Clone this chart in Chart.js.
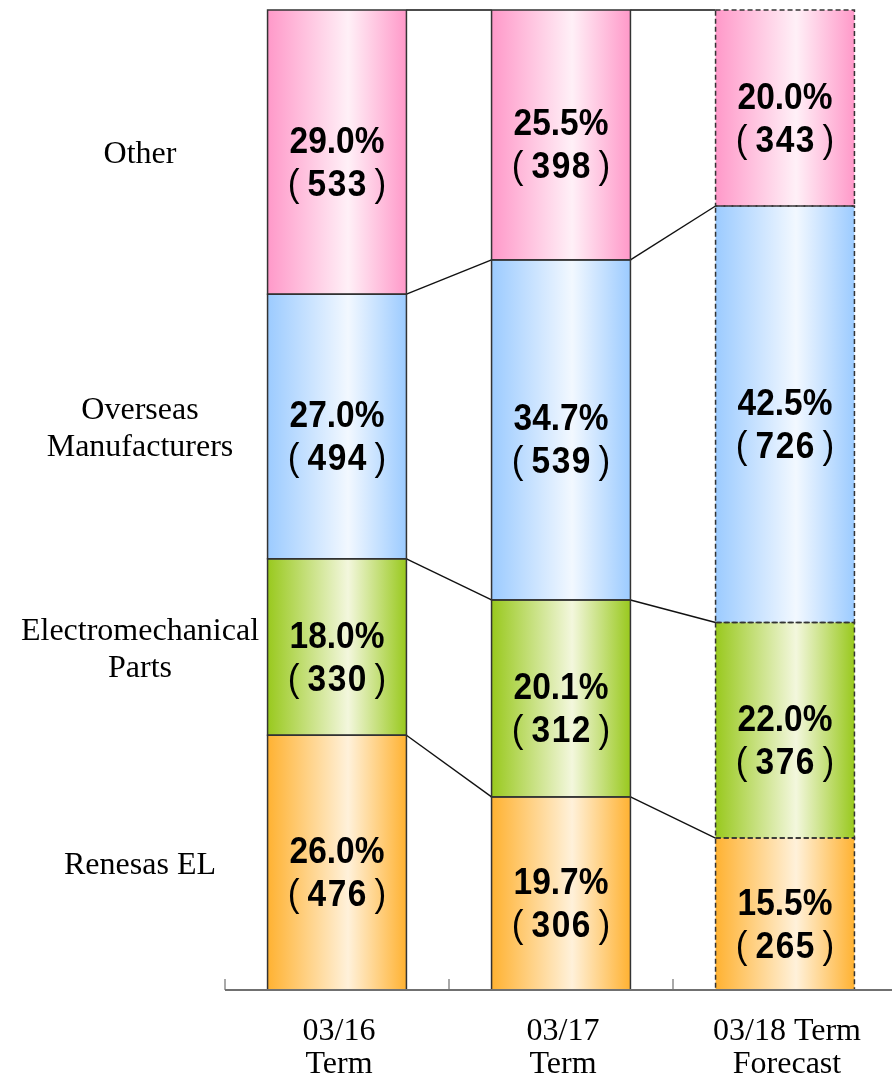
<!DOCTYPE html>
<html>
<head>
<meta charset="utf-8">
<script src="https://cdn.jsdelivr.net/npm/chart.js@4"></script>
<style>
  html, body { margin: 0; padding: 0; background: #fff; overflow: hidden; }
  canvas { display: block; }
</style>
</head>
<body>
<canvas id="shareChart" width="900" height="1081"></canvas>
<script>
// Terms (x categories)
const terms = [['03/16', 'Term'], ['03/17', 'Term'], ['03/18 Term', 'Forecast']];
const isForecast = [false, false, true];

// Segments, bottom to top
const segmentNames = [['Renesas EL'], ['Electromechanical', 'Parts'], ['Overseas', 'Manufacturers'], ['Other']];

// Share (%) and sales per segment
const renesasShare = [26.0, 19.7, 15.5];
const renesasSales = [476, 306, 265];
const electroShare = [18.0, 20.1, 22.0];
const electroSales = [330, 312, 376];
const overseasShare = [27.0, 34.7, 42.5];
const overseasSales = [494, 539, 726];
const otherShare = [29.0, 25.5, 20.0];
const otherSales = [533, 398, 343];

const shares = [renesasShare, electroShare, overseasShare, otherShare];
const sales = [renesasSales, electroSales, overseasSales, otherSales];

// Colores: borde saturado -> centro claro
const palette = [
  { edge: '#FFB232', light: '#FFF1DA' },
  { edge: '#99C91E', light: '#F3F7DD' },
  { edge: '#9CCBFF', light: '#F2F8FF' },
  { edge: '#FF99C9', light: '#FFF0F7' }
];

const BAR_PCT = 0.62;
const NUM_FONT = 'bold 36px "Liberation Sans", Arial, sans-serif';
const PAREN_FONT = '38px "Liberation Sans", Arial, sans-serif';

function gradientFor(index) {
  return (ctx) => {
    const chart = ctx.chart;
    const x = chart.scales.x;
    if (!chart.chartArea || !x) return palette[index].edge;
    const cx = x.getPixelForValue(ctx.dataIndex);
    const half = (x.width / terms.length) * BAR_PCT / 2;
    const g = chart.ctx.createLinearGradient(cx - half, 0, cx + half, 0);
    g.addColorStop(0, palette[index].edge);
    g.addColorStop(0.58, palette[index].light);
    g.addColorStop(1, palette[index].edge);
    return g;
  };
}

function drawNarrow(ctx, text, x, y, sx) {
  ctx.save();
  ctx.translate(x, y);
  ctx.scale(sx, 1);
  ctx.textAlign = 'center';
  ctx.fillText(text, 0, 0);
  ctx.restore();
}

// "(533)" with wide gaps around the parentheses
function drawBracketed(ctx, text, x, y, gap, spacing, sx) {
  ctx.save();
  ctx.translate(x, y);
  ctx.scale(sx, 1);
  ctx.textAlign = 'left';
  ctx.font = NUM_FONT;
  const chars = [...text];
  const cw = chars.map(c => ctx.measureText(c).width);
  const sp = spacing / sx;
  const w = cw.reduce((a, b) => a + b, 0) + sp * (chars.length - 1);
  ctx.font = PAREN_FONT;
  const pl = ctx.measureText('(').width;
  const pr = ctx.measureText(')').width;
  const g = gap / sx;
  let pos = -(pl + g + w + g + pr) / 2;
  ctx.fillText('(', pos, 0);
  pos += pl + g;
  ctx.font = NUM_FONT;
  chars.forEach((c, i) => {
    ctx.fillText(c, pos, 0);
    pos += cw[i] + sp;
  });
  pos += g - sp;
  ctx.font = PAREN_FONT;
  ctx.fillText(')', pos, 0);
  ctx.restore();
}

const overlayPlugin = {
  id: 'overlay',
  afterDatasetsDraw(chart) {
    const ctx = chart.ctx;
    const xScale = chart.scales.x;
    const yScale = chart.scales.y;
    const metas = chart.data.datasets.map((_, i) => chart.getDatasetMeta(i));
    ctx.save();

    // connector lines between bars
    ctx.strokeStyle = '#111';
    ctx.lineWidth = 1.4;
    metas.forEach(meta => {
      for (let i = 0; i < meta.data.length - 1; i++) {
        const a = meta.data[i], b = meta.data[i + 1];
        ctx.beginPath();
        ctx.moveTo(a.x + a.width / 2, a.y);
        ctx.lineTo(b.x - b.width / 2, b.y);
        ctx.stroke();
      }
    });

    // bar outlines (dashed for forecast)
    metas.forEach(meta => meta.data.forEach((bar, i) => {
      ctx.setLineDash(isForecast[i] ? [5, 3] : []);
      ctx.strokeStyle = '#333';
      ctx.lineWidth = 1.5;
      ctx.strokeRect(bar.x - bar.width / 2, bar.y, bar.width, bar.base - bar.y);
    }));
    ctx.setLineDash([]);

    // axis line + ticks
    const y0 = yScale.getPixelForValue(0);
    ctx.strokeStyle = '#707070';
    ctx.lineWidth = 2;
    ctx.beginPath();
    ctx.moveTo(xScale.left, y0);
    ctx.lineTo(chart.width, y0);
    ctx.stroke();
    ctx.lineWidth = 1.2;
    for (let i = 0; i <= terms.length; i++) {
      const tx = xScale.left + i * xScale.width / terms.length;
      ctx.beginPath();
      ctx.moveTo(tx, y0 - 11);
      ctx.lineTo(tx, y0);
      ctx.stroke();
    }

    // segment labels
    ctx.fillStyle = '#000';
    ctx.textBaseline = 'alphabetic';
    metas.forEach((meta, d) => meta.data.forEach((bar, i) => {
      const cy = (bar.y + bar.base) / 2 + 9;
      ctx.font = NUM_FONT;
      drawNarrow(ctx, shares[d][i].toFixed(1) + '%', bar.x, cy - 21.5 + 13, 0.93);
      drawBracketed(ctx, String(sales[d][i]), bar.x, cy + 21.5 + 13, 8, 1.5, 0.93);
    }));

    // segment names on the left, aligned to the first bar
    ctx.font = '32px "Liberation Serif", "Times New Roman", serif';
    ctx.textAlign = 'center';
    metas.forEach((meta, d) => {
      const bar = meta.data[0];
      const cy = (bar.y + bar.base) / 2;
      const lines = segmentNames[d];
      lines.forEach((line, k) => {
        const off = (k - (lines.length - 1) / 2) * 37;
        ctx.fillText(line, 140, cy + off + 11);
      });
    });

    // x labels
    terms.forEach((lines, i) => {
      const tx = xScale.getPixelForValue(i);
      lines.forEach((line, k) => {
        ctx.fillText(line, tx + 2, y0 + 50 + k * 33);
      });
    });

    ctx.restore();
  }
};

new Chart(document.getElementById('shareChart'), {
  type: 'bar',
  data: {
    labels: terms.map(t => t.join(' ')),
    datasets: shares.map((s, d) => ({
      label: segmentNames[d].join(' '),
      data: s,
      backgroundColor: gradientFor(d),
      borderWidth: 0,
      barPercentage: BAR_PCT,
      categoryPercentage: 1
    }))
  },
  options: {
    responsive: false,
    animation: false,
    layout: { padding: { left: 225, right: 3, top: 10, bottom: 91 } },
    plugins: { legend: { display: false }, tooltip: { enabled: false } },
    scales: {
      x: { stacked: true, display: false },
      y: { stacked: true, display: false, min: 0, max: 100 }
    }
  },
  plugins: [overlayPlugin]
});
</script>
</body>
</html>
